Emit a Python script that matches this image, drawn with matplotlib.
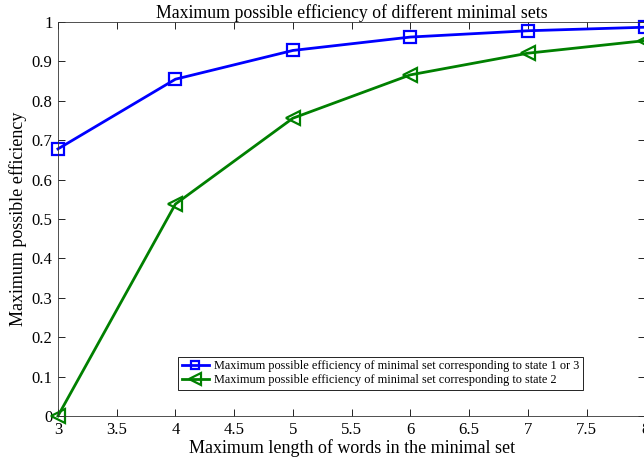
import numpy as np
import matplotlib as mpl
mpl.use('Agg')
import matplotlib.pyplot as plt

plt.rcParams['font.family'] = ['Liberation Serif', 'DejaVu Serif']
plt.rcParams['mathtext.fontset'] = 'stix'

lengths = [3, 4, 5, 6, 7, 8]
eff_state13 = [0.678, 0.855, 0.928, 0.962, 0.978, 0.987]
eff_state2 = [0.0, 0.538, 0.756, 0.866, 0.921, 0.953]
xticks = [3, 3.5, 4, 4.5, 5, 5.5, 6, 6.5, 7, 7.5, 8]
yticks = [0, 0.1, 0.2, 0.3, 0.4, 0.5, 0.6, 0.7, 0.8, 0.9, 1]

fig = plt.figure(figsize=(6.44, 4.70), dpi=100)
ax = fig.add_axes([0.09, 0.115, 0.912, 0.838])

ax.plot(lengths, eff_state13, color='#0000ff', lw=2, marker='s', ms=8,
        mfc='none', mew=1.6, clip_on=False,
        label='Maximum possible efficiency of minimal set corresponding to state 1 or 3')
ax.plot(lengths, eff_state2, color='#008000', lw=2, marker='<', ms=10,
        mfc='none', mew=1.6, clip_on=False,
        label='Maximum possible efficiency of minimal set corresponding to state 2')

ax.set_xlim(3, 8)
ax.set_ylim(0, 1)
ax.set_xticks(xticks)
ax.set_xticklabels(['%g' % t for t in xticks])
ax.set_yticks(yticks)
ax.set_yticklabels(['%g' % t for t in yticks])
ax.tick_params(direction='in', top=True, right=True, labelsize=12, length=5, width=0.6, pad=4)
for s in ax.spines.values():
    s.set_linewidth(0.6)
    s.set_color('#333333')

ax.set_title('Maximum possible efficiency of different minimal sets', fontsize=12.8, pad=3)
ax.set_xlabel('Maximum length of words in the minimal set', fontsize=13, labelpad=1)
ax.set_ylabel('Maximum possible efficiency', fontsize=13, labelpad=3)

leg = ax.legend(loc='lower left', bbox_to_anchor=(0.205, 0.066), borderaxespad=0,
                fontsize=8.8, fancybox=False, edgecolor='black', framealpha=1,
                handlelength=2.2, borderpad=0.3, labelspacing=0.15, handletextpad=0.4,
                markerscale=0.8)
leg.get_frame().set_linewidth(0.6)

fig.savefig('out.png', dpi=100)
